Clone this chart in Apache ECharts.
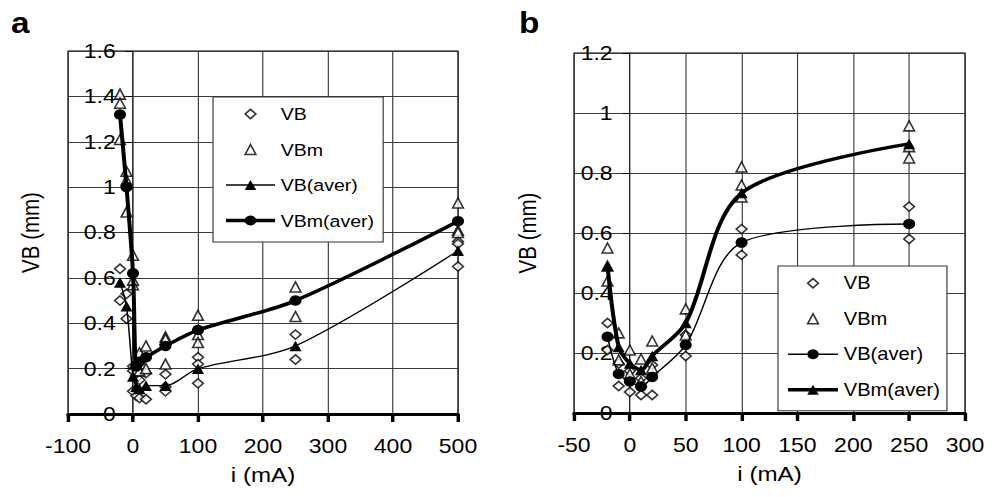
<!DOCTYPE html>
<html><head><meta charset="utf-8">
<script src="https://cdn.jsdelivr.net/npm/echarts@6/dist/echarts.min.js"></script>
<style>
html,body{margin:0;padding:0;background:#fff;overflow:hidden}
#c{width:866px;height:497px;transform:scaleX(1.15);transform-origin:0 0;}
</style></head><body><div id="c"></div>
<script>
// ---- data: panel a ----
const aX = [-20, -10, 0, 5, 10, 20, 50, 100, 250, 500];
const aVB = [[0.64,0.50],[0.53,0.42],[0.21,0.19,0.10],[0.16,0.08],[0.15,0.07],[0.18,0.065],[0.175,0.12,0.10],[0.25,0.22,0.135],[0.35,0.24],[0.76,0.75,0.65]];
const aVBm = [[1.41,1.37,1.21],[1.07,1.03,0.89],[0.70,0.57,0.59],[0.22,0.19],[0.27,0.19],[0.30,0.20],[0.34,0.33,0.22],[0.435,0.35,0.315],[0.56,0.43],[0.93,0.81,0.80]];
const aVBaver = [0.58, 0.475, 0.165, 0.12, 0.11, 0.125, 0.125, 0.20, 0.30, 0.72];
const aVBmAver = [1.32, 1.00, 0.62, 0.21, 0.23, 0.25, 0.30, 0.37, 0.50, 0.85];
const aXTicks = {min: -100, max: 500, step: 100};
const aYTicks = {min: 0, max: 1.6, step: 0.2};
// ---- data: panel b ----
const bX = [-20, -10, 0, 10, 20, 50, 100, 250];
const bVB = [[0.30,0.21],[0.165,0.09],[0.14,0.07],[0.116,0.06],[0.16,0.06],[0.26,0.19],[0.613,0.527],[0.688,0.58]];
const bVBm = [[0.55,0.49,0.44],[0.267,0.177],[0.21,0.13],[0.18,0.105],[0.24,0.15],[0.347,0.26],[0.82,0.76,0.72],[0.957,0.888,0.85]];
const bVBaver = [0.254, 0.13, 0.105, 0.088, 0.12, 0.227, 0.568, 0.63];
const bVBmAver = [0.49, 0.22, 0.165, 0.143, 0.19, 0.30, 0.733, 0.897];
const bXTicks = {min: -50, max: 300, step: 50};
const bYTicks = {min: 0, max: 1.2, step: 0.2};

const S = 1.15;            // horizontal stretch of the reference
const X = v => v / S;      // convert reference x pixels to layout units
const FF = 'Liberation Sans, Arial, sans-serif';
const THIN = 1.3, THICK = 3.5;

function flat(xs, vals) { const out = []; xs.forEach((x, i) => vals[i].forEach(v => out.push([x, v]))); return out; }
function pairs(xs, ys) { return xs.map((x, i) => [x, ys[i]]); }

const DIA = 'path://M0,0M12.5,12.5M6.25,1.6L10.9,6.25L6.25,10.9L1.6,6.25Z';
const TRI = 'path://M0,0M12.5,12.5M6.25,1.25L10.9,11.25L1.6,11.25Z';
const openStyle = {color: '#fff', borderColor: '#000', borderWidth: 1.5};

const GRIDS = [
  {left: X(68), top: 51, width: X(390), height: 363},
  {left: X(574), top: 53, width: X(391), height: 360}
];

function xAx(idx, t) {
  return {gridIndex: idx, type: 'value', min: t.min, max: t.max, interval: t.step,
    axisLine: {show: true, onZero: false, lineStyle: {color: '#000', width: 3}},
    axisTick: {show: true, length: 8, lineStyle: {color: '#000', width: 3}},
    axisLabel: {fontSize: 20, color: '#000', margin: 22, fontFamily: FF},
    splitLine: {show: true, lineStyle: {color: '#3a3a3a', width: 1}},
    name: 'i (mA)', nameLocation: 'middle', nameGap: 51,
    nameTextStyle: {fontSize: 21, color: '#000', fontFamily: FF}};
}
function yAx(idx, t, xt) {
  // the vertical axis crosses the horizontal one at i = 0
  const shift = GRIDS[idx].width * (0 - xt.min) / (xt.max - xt.min);
  return {gridIndex: idx, type: 'value', min: t.min, max: t.max, interval: t.step,
    position: 'left', offset: -shift,
    axisLine: {show: true, onZero: false, lineStyle: {color: '#222', width: 1}},
    axisTick: {show: true, length: 6, lineStyle: {color: '#000', width: 1}},
    axisLabel: {fontSize: 20, color: '#000', margin: 15, fontFamily: FF},
    splitLine: {show: true, lineStyle: {color: '#3a3a3a', width: 1}},
    name: 'VB (mm)', nameLocation: 'middle', nameGap: 78,
    nameTextStyle: {fontSize: 20.5, color: '#000', fontFamily: FF}};
}
function scat(idx, name, data, sym, size) {
  return {type: 'scatter', name, xAxisIndex: idx, yAxisIndex: idx, data, symbol: sym, symbolSize: size,
    itemStyle: openStyle, clip: false, silent: true, z: 2};
}
function line(idx, name, data, sym, width) {
  return {type: 'line', name, xAxisIndex: idx, yAxisIndex: idx, data, symbol: sym, symbolSize: 10.5,
    showSymbol: true, smooth: 0.3, itemStyle: {color: '#000'}, lineStyle: {color: '#000', width},
    clip: false, silent: true, z: 3};
}
function legend(idx, left, top, iw, fs, gap, pad, lineNames, lineWidths) {
  return {left, top, orient: 'vertical', itemWidth: iw, itemHeight: 12.5, itemGap: gap,
    padding: pad, backgroundColor: '#fff', borderColor: '#333', borderWidth: 1, borderRadius: 0,
    selectedMode: false, textStyle: {fontSize: fs, color: '#000', fontFamily: FF},
    data: [
      {name: idx === 0 ? 'VB' : 'VB ', icon: DIA, itemStyle: openStyle},
      {name: idx === 0 ? 'VBm' : 'VBm ', icon: TRI, itemStyle: openStyle},
      {name: lineNames[0], lineStyle: {color: '#000', width: lineWidths[0]}, itemStyle: {color: '#000'}},
      {name: lineNames[1], lineStyle: {color: '#000', width: lineWidths[1]}, itemStyle: {color: '#000'}}
    ],
    formatter: n => n.trim()};
}

const chart = echarts.init(document.getElementById('c'), null, {renderer: 'svg'});
chart.setOption({
  animation: false,
  backgroundColor: '#fff',
  title: [
    {text: 'a', left: X(11), top: 9, padding: 0, textStyle: {fontSize: 29, fontWeight: 'bold', color: '#000', fontFamily: FF}},
    {text: 'b', left: X(519), top: 9, padding: 0, textStyle: {fontSize: 29, fontWeight: 'bold', color: '#000', fontFamily: FF}}
  ],
  grid: GRIDS.map(g => Object.assign({show: true, borderColor: '#000', borderWidth: 1, containLabel: false, outerBoundsMode: 'none'}, g)),
  xAxis: [xAx(0, aXTicks), xAx(1, bXTicks)],
  yAxis: [yAx(0, aYTicks, aXTicks), yAx(1, bYTicks, bXTicks)],
  legend: [
    legend(0, X(213), 97, X(49), 17, 18.5, [8.5, X(9), 13, X(11)], ['VB(aver)', 'VBm(aver)'], [THIN, THICK]),
    legend(1, X(778), 266, X(50), 17.5, 17.5, [8.25, X(7), 12, X(8)], ['VB(aver) ', 'VBm(aver) '], [THIN, THICK])
  ],
  series: [
    scat(0, 'VB', flat(aX, aVB), 'diamond', [9.3, 9.3]),
    scat(0, 'VBm', flat(aX, aVBm), 'triangle', [9.3, 10]),
    line(0, 'VB(aver)', pairs(aX, aVBaver), 'triangle', THIN),
    line(0, 'VBm(aver)', pairs(aX, aVBmAver), 'circle', THICK),
    scat(1, 'VB ', flat(bX, bVB), 'diamond', [9.3, 9.3]),
    scat(1, 'VBm ', flat(bX, bVBm), 'triangle', [9.3, 10]),
    line(1, 'VB(aver) ', pairs(bX, bVBaver), 'circle', THIN),
    line(1, 'VBm(aver) ', pairs(bX, bVBmAver), 'triangle', THICK)
  ]
});
</script></body></html>
